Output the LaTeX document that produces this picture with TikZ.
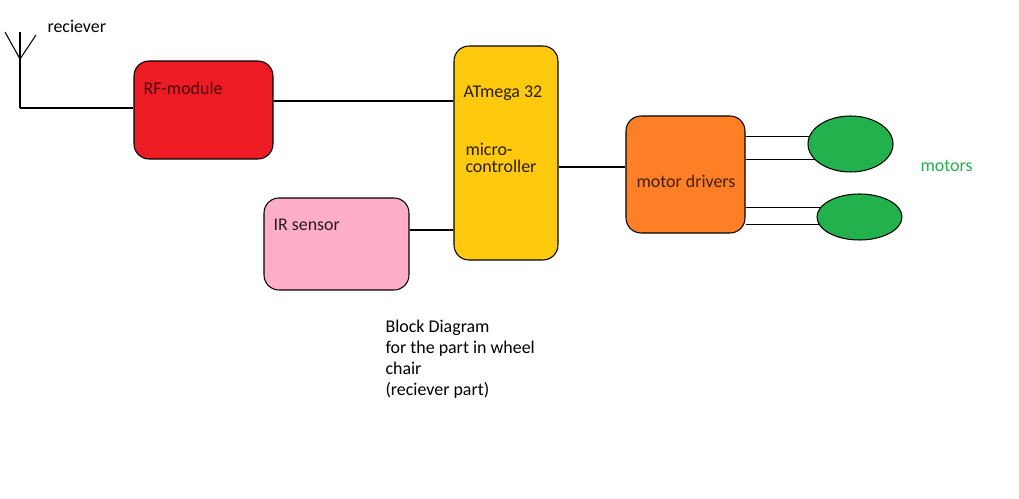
\documentclass[tikz,border=0pt]{standalone}
\usepackage{fontspec}
\setmainfont{Carlito}
\usetikzlibrary{shapes.geometric,backgrounds}

\definecolor{rfred}{HTML}{ED1C24}
\definecolor{mcuyellow}{HTML}{FFC90E}
\definecolor{irpink}{HTML}{FFAEC9}
\definecolor{drvorange}{HTML}{FF7F27}
\definecolor{motgreen}{HTML}{22B14C}

\begin{document}
\begin{tikzpicture}[x=0.02cm,y=-0.02cm,line width=0.6pt,
    font=\fontsize{10.2}{12}\selectfont,
    blockbox/.style={draw,rounded corners=0.3cm,inner sep=0pt},
    boxtext/.style={anchor=base west,inner sep=0pt},
    motor/.style={draw,ellipse,fill=motgreen,inner sep=0pt,minimum width=1.7cm}]
      \useasboundingbox (0,0) rectangle (1019,499);
      % blocks
      \node[blockbox,fill=rfred,minimum width=2.78cm,minimum height=1.96cm] (rf) at (203.5,110) {};
      \node[blockbox,fill=mcuyellow,minimum width=2.08cm,minimum height=4.28cm] (mcu) at (506,153) {};
      \node[blockbox,fill=irpink,minimum width=2.9cm,minimum height=1.84cm] (ir) at (336.5,244) {};
      \node[blockbox,fill=drvorange,minimum width=2.38cm,minimum height=2.34cm] (drv) at (685.5,174.5) {};
      \node[motor,minimum height=1.12cm] (m1) at (850.5,144) {};
      \node[motor,minimum height=0.92cm] (m2) at (859.5,217) {};
      % texts
      \node[boxtext,text=black!70!rfred] (rftext) at (143,95) {RF-module};
      \node[boxtext,text=black!85!mcuyellow] (mcutext) at (463,98) {ATmega 32};
      \node[boxtext,text=black!85!mcuyellow] (mcusub) at (465,156) {micro-};
      \node[boxtext,text=black!85!mcuyellow] (mcusubb) at (465,173) {controller};
      \node[boxtext,text=black!85!irpink] (irtext) at (273,231) {IR sensor};
      \node[boxtext,text=black!75!drvorange] (drvtext) at (636,188) {motor drivers};
      \node[boxtext,text=motgreen] (mottext) at (920,172) {motors};
      \node[boxtext] (anttext) at (47,33) {reciever};
      \foreach \t [count=\i from 0] in {Block Diagram,for the part in wheel,chair,(reciever part)}
      \node[boxtext] (caption\i) at (385,333+21*\i) {\t};
      % antenna
      \coordinate (ant) at (20,108);
      \draw (ant) -- (20,32);
      \draw (5,32) -- (20,59) -- (36,35);
      \draw (ant) -- (rf.west |- ant);
      % connections
      \draw (rf.east |- 0,101) -- (mcu.west |- 0,101);
      \draw (ir.east |- 0,230) -- (mcu.west |- 0,230);
      \draw (mcu.east |- 0,167) -- (drv.west |- 0,167);
      \begin{scope}[on background layer]
      \fill[white] (0,0) rectangle (1019,499);
      \foreach \y/\m in {136/m1,159/m1,207/m2,224/m2}
      \draw (drv.east |- 0,\y) -- (\m.center |- 0,\y);
      \end{scope}
    \end{tikzpicture}
\end{document}
